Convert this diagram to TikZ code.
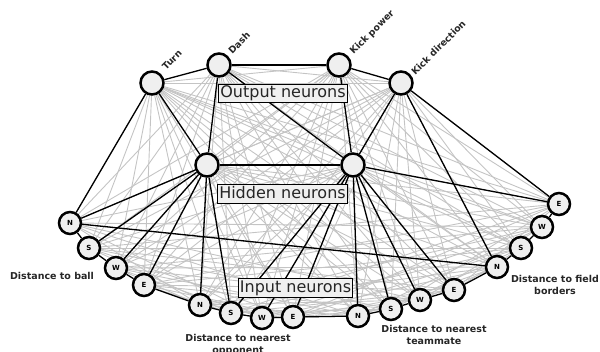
\documentclass[tikz,border=0pt]{standalone}
\usepackage{fontspec}
\setmainfont{DejaVu Sans}
\usetikzlibrary{backgrounds}
\definecolor{neufill}{HTML}{EFEFEF}
\definecolor{boxfill}{HTML}{F0F0F0}
\definecolor{weakgray}{HTML}{C4C4C4}
\begin{document}
\begin{tikzpicture}[x=1pt,y=-1pt,
  neuron/.style={circle, draw=black, line width=2.5pt, fill=neufill, minimum size=23pt, inner sep=0pt},
  inp/.style={circle, draw=black, line width=2.5pt, fill=neufill, minimum size=22pt, inner sep=0pt, font=\fontsize{7}{8}\selectfont\bfseries},
  conn/.style={black, line width=1.3pt},
  weak/.style={weakgray, line width=0.9pt},
  tag/.style={draw=black, line width=0.9pt, fill=boxfill, text=black!85, font=\fontsize{16}{18}\selectfont, inner xsep=1.5pt, inner ysep=1.5pt, text height=12pt, text depth=3.5pt},
  lbl/.style={font=\fontsize{9.5}{12}\selectfont\bfseries, align=center, text=black!85},
  olbl/.style={font=\fontsize{9.3}{11}\selectfont\bfseries, rotate=45, anchor=west, inner sep=1pt, text=black!85}]
\useasboundingbox (0,0) rectangle (600,352);

% output and hidden neurons
\node[neuron] (o1) at (152,83) {};
\node[neuron] (o2) at (219,65) {};
\node[neuron] (o3) at (339,65) {};
\node[neuron] (o4) at (401,83) {};
\node[neuron] (h1) at (207,165) {};
\node[neuron] (h2) at (353,165) {};

% input neurons
\foreach \n/\x/\y/\l in {1/70/223/N, 2/89/248/S, 3/116/268/W, 4/144/285/E,
  5/200/305/N, 6/231/313/S, 7/262/318/W, 8/293/317/E,
  9/358/316/N, 10/391/309/S, 11/420/300/W, 12/454/290/E,
  13/497/267/N, 14/521/248/S, 15/542/227/W, 16/559/204/E}
  \node[inp] (i\n) at (\x,\y) {\l};

% output labels
\node[olbl] (lturn) at (163,69) {Turn};
\node[olbl] (ldash) at (229,53) {Dash};
\node[olbl] (lkp) at (351,54) {Kick power};
\node[olbl] (lkd) at (412,74) {Kick direction};

% boxes
\node[tag] (outbox) at (283,93.5) {Output neurons};
\node[tag] (hidbox) at (282.5,194) {Hidden neurons};
\node[tag] (inbox) at (295.5,288) {Input neurons};

% group labels
\node[lbl] (lball) at (52,276) {Distance to ball};
\node[lbl] (lopp) at (238,345) {Distance to nearest\\opponent};
\node[lbl] (lteam) at (434,335) {Distance to nearest\\teammate};
\node[lbl] (lfield) at (555,285) {Distance to field\\borders};

\begin{scope}[on background layer]
  % weak connections
  \foreach \i in {1,...,16}{
    \foreach \o in {o1,o2,o3,o4,h1,h2}
      \draw[weak] (i\i) -- (\o);
  }
  \foreach \a/\b in {o1/o3, o1/o4, o2/o4, o1/h2, o3/h1, o4/h1}
    \draw[weak] (\a) -- (\b);
  \foreach \i in {1,...,16}{
    \foreach \j in {1,...,16}{
      \pgfmathtruncatemacro{\gi}{int((\i-1)/4)}
      \pgfmathtruncatemacro{\gj}{int((\j-1)/4)}
      \pgfmathtruncatemacro{\ok}{(\j>\i)&&(\gi!=\gj)&&(mod(\i+\j,2)==0)}
      \ifnum\ok=1 \draw[weak] (i\i) -- (i\j);\fi
    }
  }
  % strong connections
  \foreach \a/\b in {o1/o2, o2/o3, o3/o4,
    o1/h1, o2/h1, o2/h2, o3/h2, o4/h2, o4/i13, o4/i16,
    h1/h2,
    h1/i1, h1/i2, h1/i3, h1/i4, h1/i5, h1/i6,
    h2/i6, h2/i7, h2/i8, h2/i9, h2/i10, h2/i11, h2/i12, h2/i16,
    o1/i1, i1/i13}
    \draw[conn] (\a) -- (\b);
  \foreach \i [evaluate=\i as \j using int(\i+1)] in {1,...,15}
    \draw[conn] (i\i) -- (i\j);
\end{scope}
\end{tikzpicture}
\end{document}
